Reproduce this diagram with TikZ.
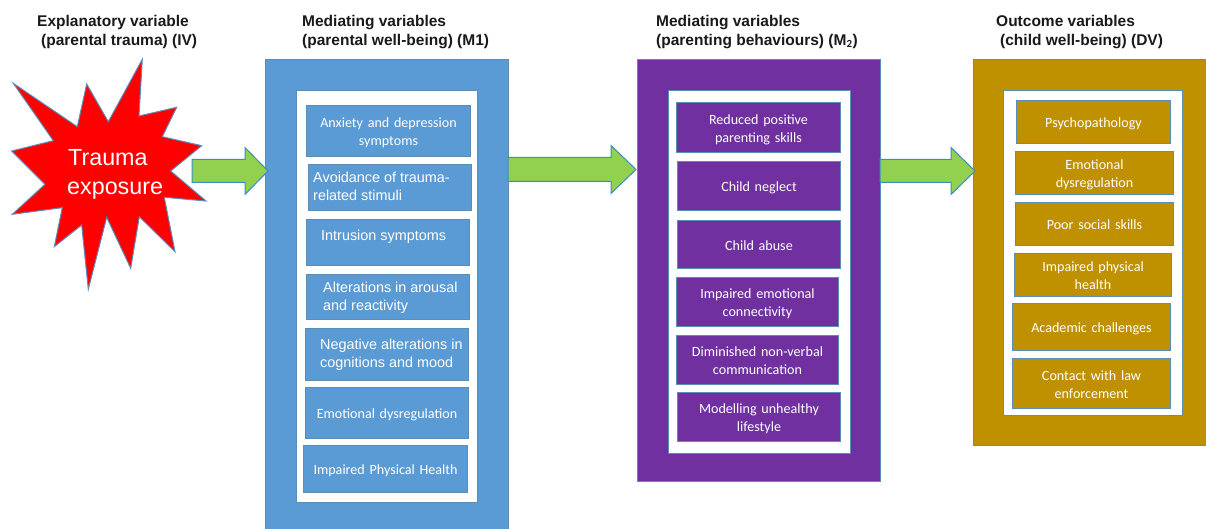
\documentclass[tikz,border=0pt]{standalone}
\usepackage{fontspec}
\setmainfont{Carlito}
\newfontfamily\arialf{Liberation Sans}
\usetikzlibrary{calc}
\definecolor{mblue}{HTML}{5B9BD5}
\definecolor{mpurple}{HTML}{7030A0}
\definecolor{mgold}{HTML}{BF9000}
\definecolor{medge}{HTML}{5A8DB8}
\definecolor{mgreen}{HTML}{92D050}
\definecolor{medgeb}{HTML}{3A8DC0}
\tikzset{
  x=1pt,y=-1pt,
  panel/.style={draw=medge,line width=1pt},
  white panel/.style={draw=medge,line width=1pt,fill=white},
  item/.style={draw=medge,line width=1pt,inner sep=0pt,text=white,font=\fontsize{14.1}{18}\selectfont,align=center},
  ari/.style={font=\arialf\fontsize{14.4}{18}\selectfont,text=white,align=left,anchor=west,inner sep=0pt},
  head/.style={font=\arialf\bfseries\fontsize{15.5}{19}\selectfont,align=left,anchor=north west,inner sep=0pt,text=black!90},
  blockarrow/.style={draw=medgeb,line width=1pt,fill=mgreen,line join=miter},
}
\newcommand{\boxat}[7]{% name, x0,y0,x1,y1, colour, text
  \node[item,fill=#6,minimum width=#4-#2,minimum height=#5-#3,anchor=north west,text width=#4-#2-8] (#1) at (#2,#3) {\raisebox{-2pt}[\height][\depth]{\begin{tabular}{@{}c@{}}#7\end{tabular}}};}
\newcommand{\blockarr}[5]{% start, tip, half shaft, half head, head length
  \draw[blockarrow] let \p1=(#1),\p2=(#2) in
    (\x1,\y1-#3) -- (\x2-#5,\y2-#3) -- (\x2-#5,\y2-#4) -- (\p2) -- (\x2-#5,\y2+#4) -- (\x2-#5,\y2+#3) -- (\x1,\y1+#3) -- cycle;}
\renewcommand{\arraystretch}{1}
\setlength{\tabcolsep}{0pt}
\begin{document}
\begin{tikzpicture}
\useasboundingbox (0,0) rectangle (1206,529);
\begin{scope}
\clip (0,0) rectangle (1206,529);
% headings
\node[head] (h0) at (37,15) {Explanatory variable\\\hspace*{4pt}(parental trauma) (IV)};
\node[head] (h1) at (302,15) {Mediating variables\\(parental well-being) (M1)};
\node[head] (h2) at (656,15) {Mediating variables\\(parenting behaviours) (M$_{\mathbf 2}$)};
\node[head] (h3) at (996,15) {Outcome variables\\\hspace*{4pt}(child well-being) (DV)};
% star
\draw[draw=medge,line width=1pt,fill=red,line join=miter]
 (13.3,83.3)--(77.3,126.7)--(86.7,84)--(108.3,121.7)--(142.3,59.3)--(139,116)--(176.7,107.3)--(162.3,136.7)--(201.7,145.7)--(170.7,171)--(206,201)--(164.3,197.3)--(175,251.7)--(139.3,216.7)--(130.7,268.3)--(106.7,217.3)--(88.3,289.3)--(81.7,225)--(54.3,246.7)--(62.3,207.7)--(12.3,214.3)--(45,184.3)--(11.7,151)--(53.3,140.7)--cycle;
\node[text=white,font=\arialf\fontsize{23.3}{29}\selectfont,align=left,inner sep=0pt,anchor=west] (star) at (67,174.5) {\hspace*{1pt}Trauma\\exposure};
% panels
\draw[panel,fill=mblue] (265.5,60) rectangle (508,540);
\draw[white panel] (296,91) rectangle (477,502);
\draw[panel,fill=mpurple] (637,60) rectangle (880,481);
\draw[white panel] (668,91) rectangle (850,453);
\draw[panel,fill=mgold] (973,60) rectangle (1215,445);
\draw[white panel] (1003,90.5) rectangle (1182,415);
% M1 items
\boxat{a1}{306}{105}{470}{156}{mblue}{Anxiety and depression\\symptoms}
\boxat{a2}{308}{164}{471}{210}{mblue}{}
\node[ari] (a2t) at (313,186.7) {Avoidance of trauma-\\related stimuli};
\boxat{a3}{306}{219}{469}{265}{mblue}{}
\node[ari] (a3t) at (321,236.5) {Intrusion symptoms};
\boxat{a4}{306}{274}{469}{319}{mblue}{}
\node[ari] (a4t) at (323,298) {Alterations in arousal\\and reactivity};
\boxat{a5}{305}{328}{468}{380}{mblue}{}
\node[ari] (a5t) at (320,355) {Negative alterations in\\cognitions and mood};
\boxat{a6}{305}{387}{468}{438}{mblue}{Emotional dysregulation}
\boxat{a7}{303}{445}{467}{492}{mblue}{Impaired Physical Health}
% M2 items
\boxat{b1}{676}{102}{840}{152}{mpurple}{Reduced positive\\parenting skills}
\boxat{b2}{677}{161}{840}{210}{mpurple}{Child neglect}
\boxat{b3}{677}{220}{840}{268}{mpurple}{Child abuse}
\boxat{b4}{676}{277}{838}{326}{mpurple}{Impaired emotional\\connectivity}
\boxat{b5}{676}{335}{838}{384}{mpurple}{Diminished non-verbal\\communication}
\boxat{b6}{677}{392}{840}{441}{mpurple}{Modelling unhealthy\\lifestyle}
% DV items
\boxat{c1}{1016}{100}{1170}{143}{mgold}{Psychopathology}
\boxat{c2}{1015}{151}{1173}{194}{mgold}{Emotional\\dysregulation}
\boxat{c3}{1015}{202}{1173}{245}{mgold}{Poor social skills}
\boxat{c4}{1014}{253}{1171}{296}{mgold}{Impaired physical\\health}
\boxat{c5}{1012}{303}{1170}{350}{mgold}{Academic challenges}
\boxat{c6}{1012}{358}{1170}{408}{mgold}{Contact with law\\enforcement}
% arrows
\coordinate (s1) at (192,171);
\coordinate (t1) at (268,171);
\coordinate (s2) at (508,169.5);
\coordinate (t2) at (636,169.5);
\coordinate (s3) at (880,171);
\coordinate (t3) at (975,171);
\blockarr{s1}{t1}{11.5}{23.5}{23}
\blockarr{s2}{t2}{12}{24}{25}
\blockarr{s3}{t3}{11.5}{23.5}{24}
\end{scope}
\end{tikzpicture}
\end{document}
